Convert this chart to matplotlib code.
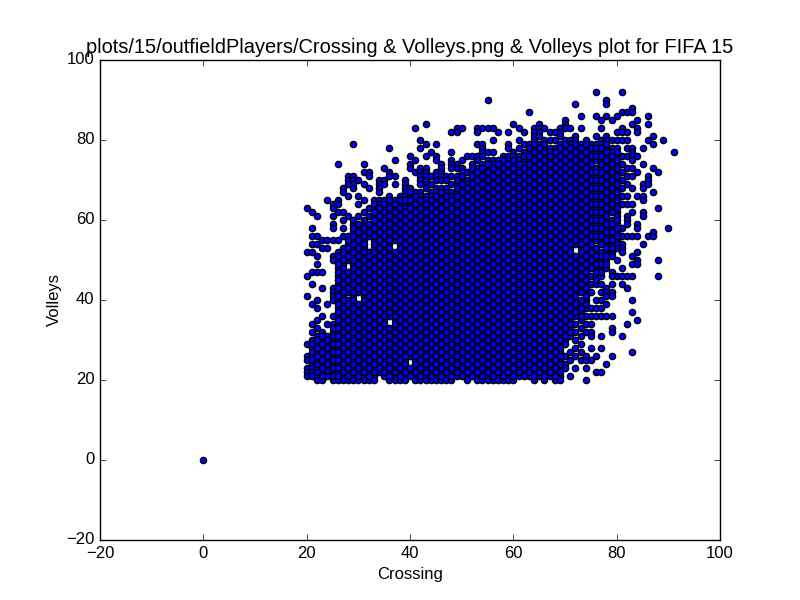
import matplotlib
matplotlib.use("Agg")
import matplotlib.pyplot as plt

# Crossing value -> Volleys values, column by column
v00 = [0]
v20 = [63, 52, 46, 41, 29, 26, 25, 23, 22, 21]
v21 = [62, 58, 56, 54, 52, 47, 44, 39, 34, 32, 30, 28, 26, 24, 23, 22, 21]
v22 = [61, 56, 54, 51, 49, 47, 40, 38, 35, 33, 31, 29, 27, 25, 23, 21, 20]
v23 = [55, 53, 47, 43, 36, 32, 30, 28, 26, 24, 22, 20]
v24 = [65, 55, 53, 39, 34, 31, 29, 27, 25, 23, 22, 21]
v25 = [64, 63, 61, 59, 58, 55, 51, 50, 43, 42, 41, 40, 36, 34, 32, 30, 28, 26, 24, 22, 20]
v26 = [74, 65, 64, 62, 55, 52, 50, 48, 46, 44, 42, 40, 38, 36, 34, 32, 30, 28, 26, 24, 22, 20]
v27 = [68, 67, 62, 60, 58, 56, 53, 51, 49, 47, 45, 43, 41, 39, 37, 35, 33, 31, 29, 27, 25, 23, 21, 20]
v28 = [71, 70, 69, 66, 61, 56, 54, 52, 50, 46, 44, 42, 40, 38, 36, 34, 32, 30, 28, 26, 24, 22, 20]
v29 = [79, 71, 70, 69, 68, 59, 57, 55, 53, 51, 49, 47, 45, 43, 41, 39, 37, 35, 33, 31, 29, 27, 25, 23, 21, 20]
v30 = [70, 66, 64, 61, 58, 56, 54, 52, 50, 48, 46, 44, 42, 38, 36, 34, 32, 30, 28, 26, 24, 22, 20]
v31 = [74, 72, 69, 65, 62, 59, 57, 55, 53, 51, 49, 47, 45, 43, 41, 39, 37, 35, 33, 31, 29, 27, 25, 23, 21, 20]
v32 = [72, 71, 68, 63, 61, 58, 56, 52, 50, 48, 46, 44, 42, 40, 38, 36, 34, 32, 30, 28, 26, 24, 22, 20]
v33 = [65, 63, 61, 59, 57, 55, 53, 51, 49, 47, 45, 43, 41, 39, 37, 35, 33, 31, 29, 27, 25, 23, 21, 20]
v34 = [70, 69, 68, 67, 65, 64, 62, 60, 58, 56, 54, 52, 50, 48, 46, 44, 42, 40, 38, 36, 34, 32, 30, 28, 26, 24, 22]
v35 = [73, 70, 69, 65, 63, 61, 59, 57, 55, 53, 51, 49, 47, 45, 43, 41, 39, 37, 35, 33, 31, 29, 27, 25, 23, 21]
v36 = [78, 72, 71, 66, 64, 62, 60, 58, 56, 54, 52, 50, 48, 46, 44, 42, 40, 38, 36, 32, 30, 28, 26, 24, 22, 20]
v37 = [75, 71, 69, 65, 63, 61, 59, 57, 55, 51, 49, 47, 45, 43, 41, 39, 37, 35, 33, 31, 29, 27, 25, 23, 21, 20]
v38 = [66, 64, 62, 60, 58, 56, 54, 52, 50, 48, 46, 44, 42, 40, 38, 36, 34, 32, 30, 28, 26, 24, 22, 20]
v39 = [70, 69, 68, 67, 66, 64, 63, 61, 59, 57, 55, 53, 51, 49, 47, 45, 43, 41, 39, 37, 35, 33, 31, 29, 27, 25, 23, 21, 20]
v40 = [76, 74, 73, 68, 66, 64, 62, 60, 58, 56, 54, 52, 50, 48, 46, 44, 42, 40, 38, 36, 34, 32, 30, 28, 26, 22]
v41 = [83, 75, 72, 67, 65, 63, 61, 59, 57, 55, 53, 51, 49, 47, 45, 43, 41, 39, 37, 35, 33, 31, 29, 27, 25, 23, 21, 20]
v42 = [80, 78, 73, 72, 71, 70, 69, 67, 66, 64, 62, 60, 58, 56, 54, 52, 50, 48, 46, 44, 42, 40, 38, 36, 34, 32, 30, 28, 26, 24, 22, 20]
v43 = [84, 79, 76, 73, 72, 71, 70, 69, 68, 66, 65, 63, 61, 59, 57, 55, 53, 51, 49, 47, 45, 43, 41, 39, 37, 35, 33, 31, 29, 27, 25, 23, 21, 20]
v44 = [77, 71, 69, 67, 66, 64, 62, 60, 58, 56, 54, 52, 50, 48, 46, 44, 42, 40, 38, 36, 34, 32, 30, 28, 26, 24, 22, 20]
v45 = [79, 76, 75, 72, 71, 70, 68, 67, 65, 63, 61, 59, 57, 55, 53, 51, 49, 47, 45, 43, 41, 39, 37, 35, 33, 31, 29, 27, 25, 23, 21, 20]
v46 = [74, 73, 72, 71, 70, 68, 66, 64, 62, 60, 58, 56, 54, 52, 50, 48, 46, 44, 42, 40, 38, 36, 34, 32, 30, 28, 26, 24, 22, 20]
v47 = [71, 70, 68, 67, 65, 63, 61, 59, 57, 55, 53, 51, 49, 47, 45, 43, 41, 39, 37, 35, 33, 31, 29, 27, 25, 23, 21, 20]
v48 = [82, 77, 75, 74, 73, 71, 69, 67, 66, 64, 62, 60, 58, 56, 54, 52, 50, 48, 46, 44, 42, 40, 38, 36, 34, 32, 30, 28, 26, 24, 22, 20]
v49 = [83, 82, 74, 73, 71, 69, 67, 65, 63, 61, 59, 57, 55, 53, 51, 49, 47, 45, 43, 41, 39, 37, 35, 33, 31, 29, 27, 25, 23, 21]
v50 = [83, 75, 73, 72, 70, 68, 66, 64, 62, 60, 58, 56, 54, 52, 50, 48, 46, 44, 42, 40, 38, 36, 34, 32, 30, 28, 26, 24, 22]
v51 = [76, 72, 70, 69, 67, 65, 63, 61, 59, 57, 55, 53, 51, 49, 47, 45, 43, 41, 39, 37, 35, 33, 31, 29, 27, 25, 23, 21, 20]
v52 = [76, 74, 72, 70, 68, 66, 64, 62, 60, 58, 56, 54, 52, 50, 48, 46, 44, 42, 40, 38, 36, 34, 32, 30, 28, 26, 24, 22]
v53 = [83, 82, 79, 76, 75, 73, 71, 69, 67, 65, 63, 61, 59, 57, 55, 53, 51, 49, 47, 45, 43, 41, 39, 37, 35, 33, 31, 29, 27, 25, 23, 21, 20]
v54 = [83, 79, 78, 77, 76, 74, 72, 70, 68, 66, 64, 62, 60, 58, 56, 54, 52, 50, 48, 46, 44, 42, 40, 38, 36, 34, 32, 30, 28, 26, 24, 22, 20]
v55 = [90, 83, 77, 75, 73, 71, 69, 67, 65, 63, 61, 59, 57, 55, 53, 51, 49, 47, 45, 43, 41, 39, 37, 35, 33, 31, 29, 27, 25, 23, 21, 20]
v56 = [83, 80, 77, 75, 74, 72, 70, 68, 66, 64, 62, 60, 58, 56, 54, 52, 50, 48, 46, 44, 42, 40, 38, 36, 34, 32, 30, 28, 26, 24, 22, 20]
v57 = [82, 75, 73, 71, 69, 67, 65, 63, 61, 59, 57, 55, 53, 51, 49, 47, 45, 43, 41, 39, 37, 35, 33, 31, 29, 27, 25, 23, 21, 20]
v58 = [76, 74, 72, 70, 68, 66, 64, 62, 60, 58, 56, 54, 52, 50, 48, 46, 44, 42, 40, 38, 36, 34, 32, 30, 28, 26, 24, 22, 20]
v59 = [82, 79, 78, 76, 75, 73, 71, 69, 67, 65, 63, 61, 59, 57, 55, 53, 51, 49, 47, 45, 43, 41, 39, 37, 35, 33, 31, 29, 27, 25, 23, 21, 20]
v60 = [84, 77, 76, 74, 72, 70, 68, 66, 64, 62, 60, 58, 56, 54, 52, 50, 48, 46, 44, 42, 40, 38, 36, 34, 32, 30, 28, 26, 24, 22, 20]
v61 = [83, 80, 78, 76, 75, 73, 71, 69, 67, 65, 63, 61, 59, 57, 55, 53, 51, 49, 47, 45, 43, 41, 39, 37, 35, 33, 31, 29, 27, 25, 23, 21]
v62 = [82, 79, 77, 75, 74, 72, 70, 68, 66, 64, 62, 60, 58, 56, 54, 52, 50, 48, 46, 44, 42, 40, 38, 36, 34, 32, 30, 28, 26, 24, 22]
v63 = [87, 79, 77, 75, 73, 71, 69, 67, 65, 63, 61, 59, 57, 55, 53, 51, 49, 47, 45, 43, 41, 39, 37, 35, 33, 31, 29, 27, 25, 23, 21]
v64 = [83, 82, 81, 80, 78, 76, 74, 72, 70, 68, 66, 64, 62, 60, 58, 56, 54, 52, 50, 48, 46, 44, 42, 40, 38, 36, 34, 32, 30, 28, 26, 24, 22, 20]
v65 = [84, 83, 82, 81, 79, 77, 75, 73, 71, 69, 67, 65, 63, 61, 59, 57, 55, 53, 51, 49, 47, 45, 43, 41, 39, 37, 35, 33, 31, 29, 27, 25, 23, 21]
v66 = [83, 80, 78, 76, 74, 72, 70, 68, 66, 64, 62, 60, 58, 56, 54, 52, 50, 48, 46, 44, 42, 40, 38, 36, 34, 32, 30, 28, 26, 24, 22, 20]
v67 = [82, 80, 78, 77, 75, 73, 71, 69, 67, 65, 63, 61, 59, 57, 55, 53, 51, 49, 47, 45, 43, 41, 39, 37, 35, 33, 31, 29, 27, 25, 23, 21]
v68 = [82, 80, 78, 76, 74, 72, 70, 68, 66, 64, 62, 60, 58, 56, 54, 52, 50, 48, 46, 44, 42, 40, 38, 36, 34, 32, 30, 28, 26, 24, 22, 20]
v69 = [83, 82, 81, 79, 77, 75, 73, 71, 69, 67, 65, 63, 61, 59, 57, 55, 53, 51, 49, 47, 45, 43, 41, 39, 37, 35, 33, 31, 29, 27, 25, 23, 21, 20]
v70 = [85, 84, 83, 80, 78, 76, 74, 72, 70, 68, 66, 64, 62, 60, 58, 56, 54, 52, 50, 48, 46, 44, 42, 40, 38, 36, 34, 32, 30, 26, 24, 23]
v71 = [83, 80, 79, 77, 75, 73, 71, 69, 67, 65, 63, 61, 59, 57, 55, 53, 51, 49, 47, 45, 43, 41, 39, 37, 35, 33, 31, 27, 25, 21]
v72 = [89, 81, 80, 78, 76, 74, 72, 70, 68, 66, 64, 62, 60, 58, 56, 54, 50, 48, 46, 44, 42, 40, 38, 36, 34, 32, 30, 28, 26, 23]
v73 = [86, 83, 79, 77, 75, 73, 71, 69, 67, 65, 63, 61, 59, 57, 55, 53, 51, 49, 47, 45, 43, 39, 37, 35, 33, 31, 29, 27, 25]
v74 = [80, 78, 76, 74, 72, 70, 68, 66, 64, 62, 60, 58, 56, 54, 52, 50, 48, 46, 44, 42, 40, 38, 36, 34, 32, 26, 25, 23, 20]
v75 = [79, 77, 75, 73, 71, 69, 67, 65, 63, 61, 59, 57, 55, 53, 51, 49, 46, 44, 42, 38, 36, 34, 32, 31, 28, 25]
v76 = [92, 86, 81, 79, 77, 75, 73, 71, 69, 67, 65, 63, 61, 59, 57, 55, 52, 50, 48, 46, 44, 40, 38, 36, 26, 22]
v77 = [85, 83, 80, 79, 77, 75, 73, 71, 69, 67, 65, 63, 61, 59, 57, 55, 52, 50, 48, 46, 44, 42, 40, 38, 36, 31, 28, 22]
v78 = [90, 89, 86, 81, 80, 78, 76, 74, 72, 70, 68, 66, 64, 62, 60, 58, 56, 54, 52, 50, 48, 43, 42, 41, 39, 36, 24]
v79 = [85, 80, 78, 77, 75, 73, 71, 69, 67, 65, 63, 60, 58, 56, 54, 52, 51, 47, 46, 44, 42, 41, 36, 33, 32, 26]
v80 = [86, 82, 80, 78, 76, 74, 72, 70, 68, 66, 64, 62, 59, 57, 55, 54, 53, 50, 46]
v81 = [92, 87, 83, 82, 80, 76, 74, 72, 70, 68, 66, 64, 58, 56, 54, 53, 52, 48, 46, 44, 31]
v82 = [87, 82, 80, 78, 76, 73, 71, 69, 66, 64, 61, 60, 59, 56, 46, 43, 34]
v83 = [88, 87, 84, 78, 77, 76, 75, 73, 71, 68, 64, 62, 56, 51, 49, 46, 40, 37, 27]
v84 = [85, 83, 82, 76, 72, 66, 59, 58, 56, 52, 50, 49, 35]
v85 = [78, 74, 69, 68, 66, 65, 62, 61, 54]
v86 = [86, 84, 80, 71, 70, 69, 56]
v87 = [81, 79, 73, 67, 57, 56]
v88 = [72, 63, 50, 46]
v89 = [80]
v90 = [58]
v91 = [77]

# second pass over the solid block, the values between the ones above
f21 = [29, 27, 25]
f22 = [30, 28, 26, 24, 22]
f23 = [31, 29, 27, 25, 23, 21]
f24 = [30, 28, 26, 24]
f25 = [33, 31, 29, 27, 25, 23, 21]
f26 = [51, 49, 47, 45, 43, 41, 39, 37, 35, 33, 31, 29, 27, 25, 23, 21]
f27 = [52, 50, 48, 46, 44, 42, 40, 38, 36, 34, 32, 30, 28, 26, 24, 22]
f28 = [55, 53, 51, 47, 45, 43, 39, 37, 35, 33, 31, 29, 27, 25, 23, 21]
f29 = [60, 58, 56, 54, 52, 50, 48, 46, 44, 42, 40, 38, 36, 34, 32, 30, 28, 26, 24, 22]
f30 = [59, 57, 55, 53, 51, 49, 47, 45, 43, 39, 37, 35, 33, 31, 29, 27, 25, 23, 21]
f31 = [60, 58, 56, 54, 52, 50, 48, 46, 44, 42, 40, 38, 36, 34, 32, 30, 28, 26, 24, 22]
f32 = [59, 57, 51, 49, 47, 45, 43, 41, 39, 37, 35, 33, 31, 29, 27, 25, 23, 21]
f33 = [64, 62, 60, 58, 56, 54, 52, 50, 48, 46, 44, 42, 40, 38, 36, 34, 32, 30, 28, 26, 24, 22]
f34 = [63, 61, 59, 57, 55, 53, 51, 49, 47, 45, 43, 41, 39, 37, 35, 33, 31, 29, 27, 25, 23]
f35 = [64, 62, 60, 58, 56, 54, 52, 50, 48, 46, 44, 42, 40, 38, 36, 34, 32, 30, 28, 26, 24, 22]
f36 = [65, 63, 61, 59, 57, 55, 53, 51, 49, 47, 45, 43, 41, 39, 37, 33, 31, 29, 27, 25, 23, 21]
f37 = [64, 62, 60, 58, 56, 52, 50, 48, 46, 44, 42, 40, 38, 36, 34, 32, 30, 28, 26, 24, 22]
f38 = [65, 63, 61, 59, 57, 55, 53, 51, 49, 47, 45, 43, 41, 39, 37, 35, 33, 31, 29, 27, 25, 23, 21]
f39 = [65, 62, 60, 58, 56, 54, 52, 50, 48, 46, 44, 42, 40, 38, 36, 34, 32, 30, 28, 26, 24, 22]
f40 = [67, 65, 63, 61, 59, 57, 55, 53, 51, 49, 47, 45, 43, 41, 39, 37, 35, 33, 31, 29, 27, 23, 21]
f41 = [66, 64, 62, 60, 58, 56, 54, 52, 50, 48, 46, 44, 42, 40, 38, 36, 34, 32, 30, 28, 26, 24, 22]
f42 = [65, 63, 61, 59, 57, 55, 53, 51, 49, 47, 45, 43, 41, 39, 37, 35, 33, 31, 29, 27, 25, 23, 21]
f43 = [64, 62, 60, 58, 56, 54, 52, 50, 48, 46, 44, 42, 40, 38, 36, 34, 32, 30, 28, 26, 24, 22]
f44 = [65, 63, 61, 59, 57, 55, 53, 51, 49, 47, 45, 43, 41, 39, 37, 35, 33, 31, 29, 27, 25, 23, 21]
f45 = [66, 64, 62, 60, 58, 56, 54, 52, 50, 48, 46, 44, 42, 40, 38, 36, 34, 32, 30, 28, 26, 24, 22]
f46 = [67, 65, 63, 61, 59, 57, 55, 53, 51, 49, 47, 45, 43, 41, 39, 37, 35, 33, 31, 29, 27, 25, 23, 21]
f47 = [66, 64, 62, 60, 58, 56, 54, 52, 50, 48, 46, 44, 42, 40, 38, 36, 34, 32, 30, 28, 26, 24, 22]
f48 = [65, 63, 61, 59, 57, 55, 53, 51, 49, 47, 45, 43, 41, 39, 37, 35, 33, 31, 29, 27, 25, 23, 21]
f49 = [70, 68, 66, 64, 62, 60, 58, 56, 54, 52, 50, 48, 46, 44, 42, 40, 38, 36, 34, 32, 30, 28, 26, 24, 22]
f50 = [71, 69, 67, 65, 63, 61, 59, 57, 55, 53, 51, 49, 47, 45, 43, 41, 39, 37, 35, 33, 31, 29, 27, 25, 23, 21]
f51 = [68, 66, 64, 62, 60, 58, 56, 54, 52, 50, 48, 46, 44, 42, 40, 38, 36, 34, 32, 30, 28, 26, 24, 22]
f52 = [73, 71, 69, 67, 65, 63, 61, 59, 57, 55, 53, 51, 49, 47, 45, 43, 41, 39, 37, 35, 33, 31, 29, 27, 25, 23, 21]
f53 = [72, 70, 68, 66, 64, 62, 60, 58, 56, 54, 52, 50, 48, 46, 44, 42, 40, 38, 36, 34, 32, 30, 28, 26, 24, 22]
f54 = [73, 71, 69, 67, 65, 63, 61, 59, 57, 55, 53, 51, 49, 47, 45, 43, 41, 39, 37, 35, 33, 31, 29, 27, 25, 23, 21]
f55 = [74, 72, 70, 68, 66, 64, 62, 60, 58, 56, 54, 52, 50, 48, 46, 44, 42, 40, 38, 36, 34, 32, 30, 28, 26, 24, 22]
f56 = [73, 71, 69, 67, 65, 63, 61, 59, 57, 55, 53, 51, 49, 47, 45, 43, 41, 39, 37, 35, 33, 31, 29, 27, 25, 23, 21]
f57 = [74, 72, 70, 68, 66, 64, 62, 60, 58, 56, 54, 52, 50, 48, 46, 44, 42, 40, 38, 36, 34, 32, 30, 28, 26, 24, 22]
f58 = [75, 73, 71, 69, 67, 65, 63, 61, 59, 57, 55, 53, 51, 49, 47, 45, 43, 41, 39, 37, 35, 33, 31, 29, 27, 25, 23, 21]
f59 = [74, 72, 70, 68, 66, 64, 62, 60, 58, 56, 54, 52, 50, 48, 46, 44, 42, 40, 38, 36, 34, 32, 30, 28, 26, 24, 22]
f60 = [75, 73, 71, 69, 67, 65, 63, 61, 59, 57, 55, 53, 51, 49, 47, 45, 43, 41, 39, 37, 35, 33, 31, 29, 27, 25, 23, 21]
f61 = [74, 72, 70, 68, 66, 64, 62, 60, 58, 56, 54, 52, 50, 48, 46, 44, 42, 40, 38, 36, 34, 32, 30, 28, 26, 24, 22]
f62 = [76, 73, 71, 69, 67, 65, 63, 61, 59, 57, 55, 53, 51, 49, 47, 45, 43, 41, 39, 37, 35, 33, 31, 29, 27, 25, 23, 21]
f63 = [78, 76, 74, 72, 70, 68, 66, 64, 62, 60, 58, 56, 54, 52, 50, 48, 46, 44, 42, 40, 38, 36, 34, 32, 30, 28, 26, 24, 22]
f64 = [79, 77, 75, 73, 71, 69, 67, 65, 63, 61, 59, 57, 55, 53, 51, 49, 47, 45, 43, 41, 39, 37, 35, 33, 31, 29, 27, 25, 23, 21]
f65 = [78, 76, 74, 72, 70, 68, 66, 64, 62, 60, 58, 56, 54, 52, 50, 48, 46, 44, 42, 40, 38, 36, 34, 32, 30, 28, 26, 24, 22]
f66 = [79, 77, 75, 73, 71, 69, 67, 65, 63, 61, 59, 57, 55, 53, 51, 49, 47, 45, 43, 41, 39, 37, 35, 33, 31, 29, 27, 25, 23, 21]
f67 = [76, 74, 72, 70, 68, 66, 64, 62, 60, 58, 56, 54, 52, 50, 48, 46, 44, 42, 40, 38, 36, 34, 32, 30, 28, 26, 24, 22]
f68 = [77, 75, 73, 71, 69, 67, 65, 63, 61, 59, 57, 55, 53, 51, 49, 47, 45, 43, 41, 39, 37, 35, 33, 31, 29, 27, 25, 23, 21]
f69 = [78, 76, 74, 72, 70, 68, 66, 64, 62, 60, 58, 56, 54, 52, 50, 48, 46, 44, 42, 40, 38, 36, 34, 32, 30, 28, 26, 24, 22]
f70 = [79, 77, 75, 73, 71, 69, 67, 65, 63, 61, 59, 57, 55, 53, 51, 49, 47, 45, 43, 41, 39, 37, 35, 33, 31, 29]
f71 = [78, 76, 74, 72, 70, 68, 66, 64, 62, 60, 58, 56, 54, 52, 50, 48, 46, 44, 42, 40, 38, 36, 34, 32]
f72 = [79, 77, 75, 73, 71, 69, 67, 65, 63, 61, 59, 57, 55, 51, 49, 47, 45, 43, 41, 39, 37]
f73 = [78, 76, 74, 72, 70, 68, 66, 64, 62, 60, 58, 56, 54, 52, 50, 48, 46, 44, 42, 40, 38, 36]
f74 = [79, 77, 75, 73, 71, 69, 67, 65, 63, 61, 59, 57, 55, 53, 51, 49, 47, 45, 43, 41, 39]
f75 = [78, 76, 74, 72, 70, 68, 66, 64, 62, 60, 58, 56, 54, 52, 50, 48]
f76 = [78, 76, 72, 70, 68, 66, 64, 62, 60, 58, 56, 53, 51, 49, 47, 45]
f77 = [78, 76, 74, 72, 70, 68, 66, 64, 62, 60, 58, 56, 54, 51, 49, 47]
f78 = [79, 77, 75, 73, 71, 69, 67, 65, 63, 61, 59, 57, 55, 53, 51, 49]
f79 = [76, 74, 72, 70, 68, 66, 64, 62, 59, 57, 55, 53]
f80 = [77, 75, 73, 71, 69, 67, 65, 63, 61, 60, 58, 56]

crossing_values = [0] + list(range(20, 92))
volley_columns = [v00, v20, v21, v22, v23, v24, v25, v26, v27, v28, v29,
                  v30, v31, v32, v33, v34, v35, v36, v37, v38, v39,
                  v40, v41, v42, v43, v44, v45, v46, v47, v48, v49,
                  v50, v51, v52, v53, v54, v55, v56, v57, v58, v59,
                  v60, v61, v62, v63, v64, v65, v66, v67, v68, v69,
                  v70, v71, v72, v73, v74, v75, v76, v77, v78, v79,
                  v80, v81, v82, v83, v84, v85, v86, v87, v88, v89,
                  v90, v91]
fill_values = list(range(21, 81))
fill_columns = [f21, f22, f23, f24, f25, f26, f27, f28, f29,
                f30, f31, f32, f33, f34, f35, f36, f37, f38, f39,
                f40, f41, f42, f43, f44, f45, f46, f47, f48, f49,
                f50, f51, f52, f53, f54, f55, f56, f57, f58, f59,
                f60, f61, f62, f63, f64, f65, f66, f67, f68, f69,
                f70, f71, f72, f73, f74, f75, f76, f77, f78, f79,
                f80]

crossing = []
volleys = []
for c, column in zip(crossing_values + fill_values, volley_columns + fill_columns):
    crossing.extend([c] * len(column))
    volleys.extend(column)

plt.style.use("classic")
plt.rcParams["font.family"] = ["Liberation Sans", "DejaVu Sans"]

fig = plt.figure(figsize=(8, 6), dpi=100, facecolor="white")
ax = fig.add_subplot(111)
ax.scatter(crossing, volleys, c="b", s=20, edgecolors="k", linewidths=1)
ax.set_xlim(-20, 100)
ax.set_ylim(-20, 100)
ax.set_xlabel("Crossing")
ax.set_ylabel("Volleys", labelpad=3)
ax.set_title("plots/15/outfieldPlayers/Crossing & Volleys.png & Volleys plot for FIFA 15")

fig.savefig("out.png", dpi=100, facecolor="white")
